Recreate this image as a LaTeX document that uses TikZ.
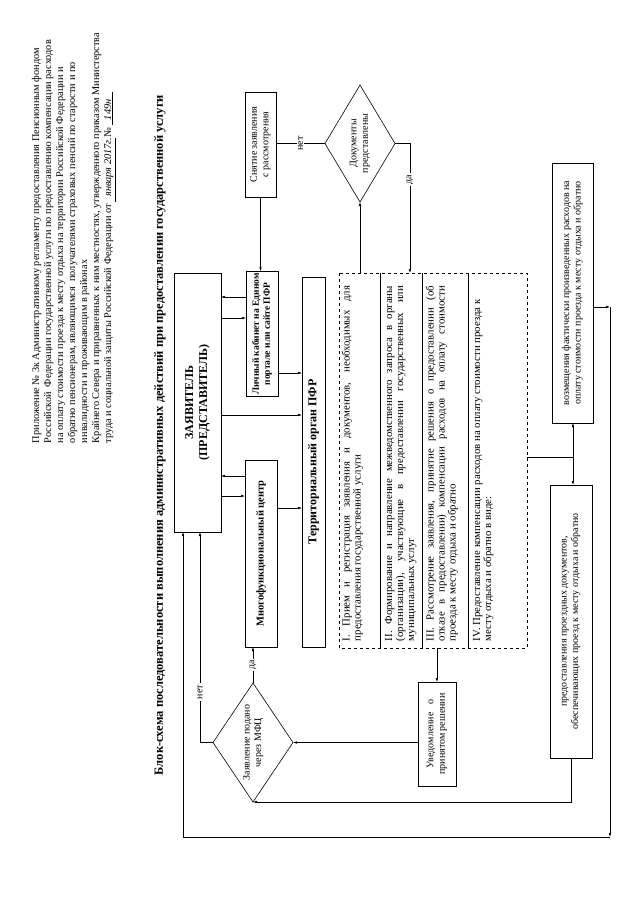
\documentclass[tikz,border=0pt]{standalone}
\usepackage{fontspec}
\setmainfont{Liberation Serif}
\usetikzlibrary{shapes.geometric,arrows.meta}
\begin{document}
\begin{tikzpicture}[x=1pt,y=1pt,>={Latex[length=4pt,width=2.6pt]},line width=0.6pt]
	\tikzstyle{every node}+=[inner sep=0pt, outer sep=0pt, rotate=90]
	\tikzstyle{box}=[draw, inner sep=2pt, align=center, font=\fontsize{10}{11.5}\selectfont]
	\tikzstyle{bbox}=[box, font=\bfseries\fontsize{9.5}{11}\selectfont]
	\tikzstyle{ask}=[draw, diamond, aspect=1.6, align=center, font=\fontsize{10}{11.5}\selectfont]
	\tikzstyle{stage}=[text width=355pt, align=justify, anchor=north west, font=\fontsize{10.8}{11}\selectfont]
	\tikzstyle{lbl}=[fill=white, inner sep=1.5pt, font=\fontsize{10}{11}\selectfont]
	\useasboundingbox (0,0) rectangle (640,-905);
	\node[anchor=north west, align=left, font=\fontsize{10.3}{12}\selectfont] (hdr) at (32,-443) {Приложение № 3к Административному регламенту предоставления Пенсионным фондом\\
		Российской\ \ Федерации государственной услуги по предоставлению компенсации расходов\\
		на оплату стоимости проезда к месту отдыха на территории Российской Федерации и\\
		обратно пенсионерам, являющимся\ \ получателями страховых пенсий по старости и по\\
		инвалидности и проживающим в районах\\
		Крайнего Севера и приравненных к ним местностях, утвержденного приказом Министерства\\
		труда и социальной защиты Российской Федерации от \underline{\itshape\ \ января 2017г.}№\ \underline{\itshape\ \ 149н\ \ \ }};
	\node[font=\bfseries\fontsize{12.5}{15}\selectfont] (title) at (160,-435) {Блок-схема последовательности выполнения административных действий при предоставлении государственной услуги};
	\node[bbox, minimum width=259pt, minimum height=47pt, font=\bfseries\fontsize{12}{14}\selectfont] (zayav) at (197.5,-402.5) {ЗАЯВИТЕЛЬ\\(ПРЕДСТАВИТЕЛЬ)};
	\node[bbox, minimum width=118pt, minimum height=32pt] (lk) at (262,-334) {Личный кабинет на Едином\\портале или сайте ПФР};
	\node[bbox, minimum width=187pt, minimum height=32pt, font=\bfseries\fontsize{10.5}{12}\selectfont] (mfc) at (261,-553.5) {Многофункциональный центр};
	\node[bbox, minimum width=370pt, minimum height=23pt, font=\bfseries\fontsize{12}{13}\selectfont] (terr) at (313.5,-462) {Территориальный орган ПФР};
	\node[box, minimum width=105pt, minimum height=31pt] (snyat) at (260.5,-144.5) {Снятие заявления\\с рассмотрения};
	\node[ask, minimum width=117pt, minimum height=70pt] (docs) at (360,-143.5) {Документы\\представлены};
	\node[ask, minimum width=119pt, minimum height=80pt] (viamfc) at (253,-742.5) {Заявление подано\\через МФЦ};
	\node[box, minimum width=104pt, minimum height=38pt] (uved) at (437,-734) {Уведомление\ \ \ о\\принятом решении};
	\node[box, minimum width=260pt, minimum height=41pt] (refund) at (572.5,-293) {возмещения фактически произведенных расходов на\\оплату стоимости проезда к месту отдыха и обратно};
	\node[box, minimum width=273pt, minimum height=42pt] (tickets) at (571,-621.5) {предоставления проездных документов,\\обеспечивающих проезд к месту отдыха и обратно};
	\node[draw, dashed, minimum width=375pt, minimum height=188pt] (stages) at (433,-460.5) {};
	\draw (stages.east -| 380,0) -- (stages.west -| 380,0);
	\draw (stages.east -| 422,0) -- (stages.west -| 422,0);
	\draw (stages.east -| 468,0) -- (stages.west -| 468,0);
	\node[stage] (st1) at (342,-641) {I. Прием и регистрация заявления и документов, необходимых для\linebreak предоставления государственной услуги};
	\node[stage] (st2) at (385,-641) {II. Формирование и направление межведомственного запроса в органы\linebreak (организации), участвующие в предоставлении государственных или\linebreak муниципальных услуг};
	\node[stage] (st3) at (426,-641) {III. Рассмотрение заявления, принятие решения о предоставлении (об\linebreak отказе в предоставлении) компенсации расходов на оплату стоимости\linebreak проезда к месту отдыха и обратно};
	\node[stage] (st4) at (473,-641) {IV. Предоставление компенсации расходов на оплату стоимости проезда к\\ месту отдыха и обратно в виде:};
	\draw[->] (snyat.west) -- (snyat.west |- lk.east);
	\draw (docs.north) -- node[lbl]{нет} (docs.north -| snyat.south);
	\draw[->] (docs.south) -| node[lbl, pos=0.64]{да} (stages.east -| 410,0);
	\draw[->] (stages.east -| docs.west) -- (docs.west);
	\draw[<-] (zayav.south |- 0,-297) -- (lk.north |- 0,-297);
	\draw[->] (zayav.south |- 0,-318) -- (lk.north |- 0,-318);
	\draw[->] (lk.south |- 0,-373) -- (terr.north |- 0,-373);
	\draw[->] (zayav.south |- 0,-415) -- (terr.north |- 0,-415);
	\draw[<-] (zayav.south |- 0,-476) -- (mfc.north |- 0,-476);
	\draw[->] (zayav.south |- 0,-496) -- (mfc.north |- 0,-496);
	\draw[->] (mfc.south |- 0,-508) -- (terr.north |- 0,-508);
	\draw[->] (uved.east |- stages.west) -- (uved.east);
	\draw[->] (uved.north |- viamfc.south) -- (viamfc.south);
	\draw[->] (viamfc.east) -- node[lbl]{да} (viamfc.east |- mfc.west);
	\draw[->] (viamfc.north) -| node[lbl, pos=0.62]{нет} (zayav.west -| 200,0);
	\draw[->] (tickets.west) |- (viamfc.west);
	\coordinate (turn1) at (610,-307);
	\coordinate (turn2) at (610,-837);
	\draw[->] (refund.south |- turn1) -- (turn1);
	\draw[->] (turn1) -- (turn2);
	\draw[->] (turn2) -| (zayav.west -| 183,0);
	\coordinate (fork) at (573,-457);
	\draw (stages.south |- fork) -- (fork);
	\draw[->] (fork) -- (fork |- refund.west);
	\draw[->] (fork) -- (fork |- tickets.east);
\end{tikzpicture}
\end{document}
